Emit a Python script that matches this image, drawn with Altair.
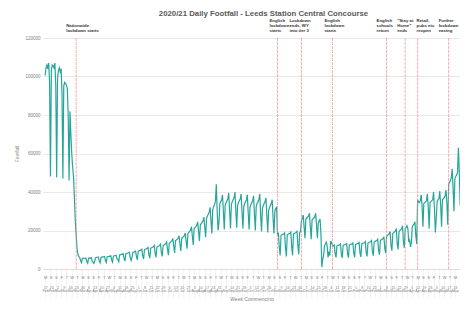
import altair as alt
import pandas as pd

title_text = "2020/21 Daily Footfall - Leeds Station Central Concourse"
y_title = "Footfall"
x_title = "Week Commencing"

start_date = "2020-02-17"  # Monday of first week
# Daily footfall, one row per week (Mon..Sun)
weeks = [
    [100500, 104500, 106000, 104000, 107000, 97000, 48000],   # 17 Feb 2020
    [103000, 106000, 105500, 104500, 107000, 95000, 47500],
    [99000, 103000, 104500, 102500, 104000, 92000, 47000],
    [95000, 97000, 96500, 95500, 94000, 80000, 46000],
    [82000, 70000, 60000, 53000, 48000, 37000, 25000],
    [18000, 10500, 7500, 6500, 6000, 4300, 3300],              # 23 Mar
    [5500, 5700, 5600, 5500, 5600, 3900, 3000],
    [5600, 5800, 5700, 5900, 4100, 3600, 2900],
    [4300, 5900, 6000, 6100, 6200, 4200, 3200],
    [6100, 6200, 6300, 6300, 6500, 4400, 3400],
    [6400, 6500, 6600, 6600, 6900, 4700, 3600],
    [6700, 6900, 7000, 7100, 5300, 4900, 3800],
    [7300, 7500, 7600, 7700, 8000, 5400, 4100],
    [7900, 8100, 8200, 8400, 8700, 5800, 4400],
    [6300, 8700, 8800, 9000, 9300, 6300, 4800],
    [9300, 9500, 9700, 9900, 10300, 6900, 5200],
    [10000, 10300, 10500, 10700, 11200, 7400, 5600],
    [10800, 11000, 11300, 11500, 12200, 8200, 6100],
    [11400, 11700, 11900, 12200, 12900, 8800, 6500],
    [12200, 12500, 12800, 13100, 14000, 10200, 7200],
    [13500, 13800, 14200, 14700, 15900, 11800, 8300],
    [14800, 15100, 15500, 16000, 17300, 13000, 9400],
    [16000, 16400, 16800, 17300, 18700, 14500, 10600],
    [18500, 19000, 19500, 20300, 22000, 17000, 12500],        # 27 Jul
    [21000, 21500, 22000, 22800, 24500, 19500, 14500],
    [23000, 23500, 24200, 25000, 27000, 21500, 16500],
    [26500, 27500, 28500, 29500, 32000, 25000, 18500],
    [31000, 32500, 33500, 35000, 44000, 30000, 20000],        # 24 Aug
    [24000, 34000, 35000, 36000, 38500, 29500, 20500],
    [33000, 34500, 35500, 36500, 39500, 30000, 21000],
    [33500, 35000, 36000, 37000, 40000, 30500, 21500],
    [33000, 34500, 35500, 36500, 39000, 29500, 21000],
    [32500, 34000, 35000, 36000, 38500, 29000, 20500],
    [32000, 33500, 34500, 35500, 38000, 28500, 20000],
    [32500, 34000, 35000, 36000, 39000, 28000, 19500],
    [31500, 33000, 34000, 35000, 37000, 27500, 19000],
    [30500, 32000, 33000, 34000, 36000, 26500, 18500],
    [30000, 31500, 32000, 18000, 18500, 11500, 7000],         # 2 Nov
    [17500, 17800, 18000, 18200, 18800, 11000, 6500],
    [17800, 18100, 18300, 18500, 19200, 11500, 7000],
    [18200, 18500, 18700, 19000, 19600, 12000, 7500],
    [19000, 19500, 25000, 26500, 28000, 22000, 16000],        # 30 Nov
    [26000, 26500, 27000, 27500, 29000, 22000, 15500],
    [25500, 26000, 26500, 27000, 29000, 23000, 16000],
    [24000, 25000, 26000, 18000, 1000, 5000, 7000],           # 21 Dec
    [12000, 13000, 14000, 12000, 6000, 9000, 7000],
    [14500, 13500, 12500, 12000, 12500, 8000, 6000],          # 4 Jan 2021
    [12000, 12200, 12400, 12500, 13000, 7800, 5800],
    [12300, 12500, 12600, 12800, 13200, 8000, 5900],
    [12500, 12700, 12900, 13000, 13500, 8200, 6100],
    [12800, 13000, 13200, 13300, 13800, 8400, 6300],
    [13000, 13300, 13500, 13600, 14200, 8600, 6500],
    [13500, 13800, 14000, 14200, 14800, 9000, 6900],
    [14000, 14300, 14600, 14800, 15500, 9600, 7400],
    [14800, 15200, 15500, 15800, 16800, 10500, 8200],
    [17000, 17500, 18000, 18300, 19500, 12000, 9500],         # 8 Mar
    [18500, 19000, 19300, 19700, 21000, 13000, 10200],
    [19500, 20000, 20500, 21000, 22500, 14000, 11000],
    [21000, 21500, 22500, 21000, 14000, 15000, 11500],
    [14000, 22000, 22800, 23500, 24500, 17000, 13000],
    [36000, 35000, 34500, 35500, 38500, 33000, 22000],        # 12 Apr
    [34000, 34500, 35000, 35500, 39000, 32000, 21000],
    [34500, 35000, 35500, 36000, 40000, 31000, 19000],
    [26000, 35000, 36000, 36500, 40500, 33000, 22000],
    [36000, 36500, 37000, 38000, 41000, 34000, 23000],
    [44000, 45000, 46000, 47500, 52000, 42000, 30000],        # 17 May
    [47000, 48000, 49000, 50000, 63000, 50000, 33000],
    [38000, 50000, 51000, 52000, 55000, 45000, 30000],
    [52000, 53000],
]

event_dates = ["2020-03-23", "2020-11-05", "2020-12-02", "2021-01-06",
               "2021-03-08", "2021-03-29", "2021-04-12", "2021-05-17"]
event_labels = [
    "Nationwide\nlockdown starts",
    "English\nlockdown\nstarts",
    "Lockdown\nends, WY\ninto tier 3",
    "English\nlockdown\nstarts",
    "English\nschools\nreturn",
    "\"Stay at\nHome\"\nends",
    "Retail,\npubs etc\nreopen",
    "Further\nlockdown\neasing",
]

y_ticks = [0, 20000, 40000, 60000, 80000, 100000, 120000]

# styling: horizontal pixel shift of each annotation's text block from its line
note_shift = [-10, -8, -12, -8, -10, -8, -1, -10]
NOTE_LH = 5.3

footfall = [v for w in weeks for v in w]
dates = pd.date_range(start_date, periods=len(footfall), freq="D")
df = pd.DataFrame({"date": dates.strftime("%Y-%m-%d"), "footfall": footfall})
ev = pd.DataFrame({"date": event_dates, "label": event_labels,
                   "i": list(range(len(event_dates)))})


def dt(d):
    return alt.DateTime(year=d.year, month=d.month, date=d.day)


six_day = [dt(d) for d in pd.date_range("2020-02-17", "2021-05-29", freq="6D")]
weekly = [dt(d) for d in pd.date_range("2020-02-17", "2021-05-24", freq="7D")]

FONT = "Liberation Sans"
# the reference picture is cropped on the right; the visible window ends ~29 May 2021
x_scale = alt.Scale(domain=[alt.DateTime(year=2020, month=2, date=14, hours=14),
                            alt.DateTime(year=2021, month=5, date=29, hours=19)])

line = alt.Chart(df).mark_line(color="#26a69a", strokeWidth=1.2, clip=True).encode(
    x=alt.X("date:T", scale=x_scale, axis=alt.Axis(
        orient="bottom", values=six_day, title=None,
        labelExpr="['S','M','T','W','T','F','S'][day(datum.value)]",
        labelFontSize=4, labelColor="#808080", labelFont=FONT, labelAngle=0,
        labelOverlap=False, labelFlush=False, labelPadding=-22,
        tickSize=28, tickColor="#ebebeb", tickWidth=0.6,
        domainColor="#d9d9d9", domainWidth=0.8, grid=False)),
    y=alt.Y("footfall:Q", scale=alt.Scale(domain=[0, 120000]), axis=alt.Axis(
        values=y_ticks, format="d", title=y_title, titleFontSize=5,
        titleFontWeight="normal", titleColor="#7f7f7f", titleFont=FONT,
        titlePadding=5, labelFontSize=4.5, labelColor="#808080", labelFont=FONT,
        labelPadding=3, ticks=False, domain=False, gridColor="#e3e3e3",
        gridWidth=0.8)),
)

rules = alt.Chart(ev).mark_rule(color="#f08a8a", strokeWidth=1, strokeDash=[3, 1],
                                opacity=0.7).encode(
    x=alt.X("date:T", scale=x_scale, axis=alt.Axis(
        orient="bottom", values=weekly, title=x_title, titleFontSize=5,
        titleFontWeight="normal", titleColor="#7f7f7f", titleFont=FONT,
        titlePadding=4,
        labelExpr="[date(datum.value) + '', timeFormat(datum.value, '%b')]",
        labelFontSize=3.6, labelColor="#808080", labelFont=FONT, labelAngle=0,
        labelOverlap=False, labelFlush=False, labelPadding=16, labelLineHeight=3.6,
        ticks=False, domain=False, grid=False)),
)

note_layers = []
for i, shift in enumerate(note_shift):
    n_lines = event_labels[i].count("\n") + 1
    note_layers.append(
        alt.Chart(ev).transform_filter(alt.datum.i == i).mark_text(
            align="left", baseline="top", lineBreak="\n", fontSize=4.3,
            fontWeight="bold", color="#333333", font=FONT, dx=shift,
            lineHeight=NOTE_LH).encode(
            x=alt.X("date:T", scale=x_scale, axis=None),
            y=alt.value(-3.5 - n_lines * NOTE_LH),
            text="label:N",
        )
    )

chart = alt.layer(line, rules, *note_layers).resolve_axis(x="independent").properties(
    width=417, height=231,
    title=alt.TitleParams(title_text, fontSize=7.8, fontWeight="bold", color="#595959",
                          font=FONT, anchor="middle", offset=1, dx=12),
    autosize=alt.AutoSizeParams(type="none"),
    padding={"left": 35, "top": 30, "right": 0, "bottom": 32},
).configure_view(stroke=None)

chart.save("out.html", embed_options={"renderer": "svg", "actions": False})
